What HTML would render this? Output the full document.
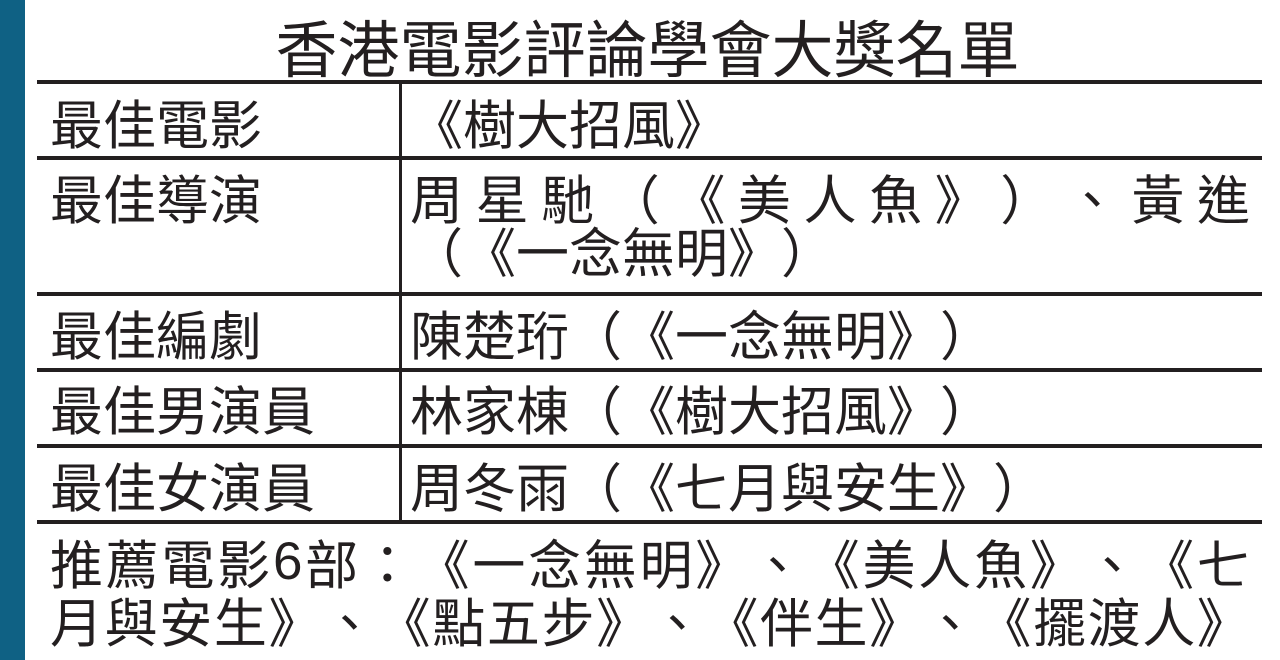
<!DOCTYPE html>
<html><head><meta charset="utf-8"><style>
body{margin:0;width:1280px;height:660px;background:#fff;position:relative;overflow:hidden;font-family:"Noto Sans CJK TC","Liberation Sans",sans-serif;color:#231f20;text-spacing-trim:space-all;font-kerning:none;font-feature-settings:"chws" 0,"halt" 0,"palt" 0}
.bar{position:absolute;left:0;top:0;width:25px;height:660px;background:#0f6184}
.h{position:absolute;left:37px;width:1225px;height:4px;background:#231f20}
.v{position:absolute;left:399px;top:82px;width:3px;height:442px;background:#231f20}
.t{position:absolute;font-size:53px;line-height:56px;white-space:nowrap}
.f{display:flex;justify-content:space-between}
.n{font-family:"Liberation Sans",sans-serif}
</style></head><body>
<div class="bar"></div>
<div class="t" style="left:270px;top:12px;width:755px;font-size:62px;line-height:66px;text-align:center">香港電影評論學會大獎名單</div>
<div class="h" style="top:80px"></div>
<div class="h" style="top:156px"></div>
<div class="h" style="top:292px"></div>
<div class="h" style="top:368px"></div>
<div class="h" style="top:444px"></div>
<div class="h" style="top:520px"></div>
<div class="v"></div>
<div class="t" style="left:50px;top:94px">最佳電影</div>
<div class="t" style="left:410px;top:94px">《樹大招風》</div>
<div class="t" style="left:50px;top:169px">最佳導演</div>
<div class="t f" style="left:410px;top:169px;width:840px"><span>周</span><span>星</span><span>馳</span><span>（</span><span>《</span><span>美</span><span>人</span><span>魚</span><span>》</span><span>）</span><span>、</span><span>黃</span><span>進</span></div>
<div class="t" style="left:410px;top:222px"><span>（</span><span>《</span>一念無明<span>》</span><span>）</span></div>
<div class="t" style="left:50px;top:305px">最佳編劇</div>
<div class="t" style="left:410px;top:305px">陳楚珩<span>（</span><span>《</span>一念無明<span>》</span><span>）</span></div>
<div class="t" style="left:50px;top:380px">最佳男演員</div>
<div class="t" style="left:410px;top:380px">林家棟<span>（</span><span>《</span>樹大招風<span>》</span><span>）</span></div>
<div class="t" style="left:50px;top:457px">最佳女演員</div>
<div class="t" style="left:410px;top:457px">周冬雨<span>（</span><span>《</span>七月與安生<span>》</span><span>）</span></div>
<div class="t f" style="left:50px;top:534px;width:1200px"><span>推</span><span>薦</span><span>電</span><span>影</span><span class="n">6</span><span>部</span><span>：</span><span>《</span><span>一</span><span>念</span><span>無</span><span>明</span><span>》</span><span>、</span><span>《</span><span>美</span><span>人</span><span>魚</span><span>》</span><span>、</span><span>《</span><span>七</span></div>
<div class="t f" style="left:50px;top:592px;width:1200px"><span>月</span><span>與</span><span>安</span><span>生</span><span>》</span><span>、</span><span>《</span><span>點</span><span>五</span><span>步</span><span>》</span><span>、</span><span>《</span><span>伴</span><span>生</span><span>》</span><span>、</span><span>《</span><span>擺</span><span>渡</span><span>人</span><span>》</span></div>
</body></html>
